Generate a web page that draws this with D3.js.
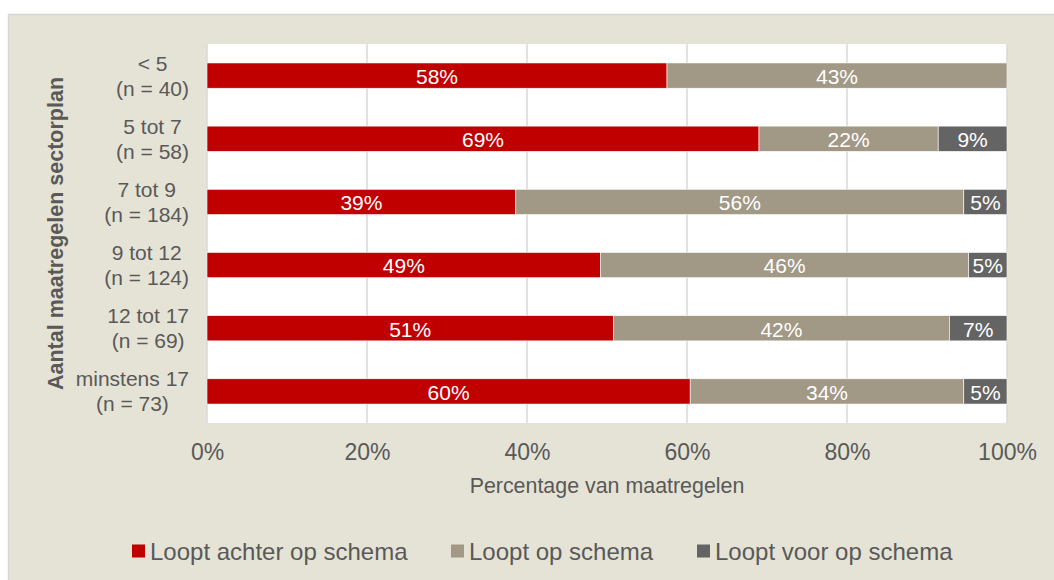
<!DOCTYPE html>
<html>
<head>
<meta charset="utf-8">
<script src="https://cdn.jsdelivr.net/npm/d3@7"></script>
<style>
  body { margin: 0; background: #ffffff; }
  svg text { font-family: "Liberation Sans", Arial, sans-serif; }
</style>
</head>
<body>
<div id="chart"></div>
<script>
// Categories (two lines each)
var categories = ["< 5|(n = 40)", "5 tot 7|(n = 58)", "7 tot 9|(n = 184)",
  "9 tot 12|(n = 124)", "12 tot 17|(n = 69)", "minstens 17|(n = 73)"];

// Series values (percent)
var seriesNames = ["Loopt achter op schema", "Loopt op schema", "Loopt voor op schema"];
var achter = [57.5, 69.0, 38.6, 49.2, 50.8, 60.4];
var op = [42.5, 22.4, 56.0, 46.0, 42.0, 34.2];
var voor = [0, 8.6, 5.4, 4.8, 7.2, 5.4];

// Tick labels
var xTicks = [0, 20, 40, 60, 80, 100];

var colors = ["#C00000", "#A19886", "#646464"];

var svgWidth = 1054;
var svgHeight = 580;

var plot = { left: 207, right: 1007, top: 44, bottom: 423 };

var svg = d3.select("#chart")
  .append("svg")
  .attr("width", svgWidth)
  .attr("height", svgHeight);

// chart area background
svg.append("rect")
  .attr("x", 8.5).attr("y", 14.5)
  .attr("width", svgWidth + 10).attr("height", svgHeight + 10)
  .attr("fill", "#E5E3D6")
  .attr("stroke", "#D6D6D6")
  .attr("stroke-width", 1.5);

// plot area
svg.append("rect")
  .attr("x", plot.left).attr("y", plot.top)
  .attr("width", plot.right - plot.left).attr("height", plot.bottom - plot.top)
  .attr("fill", "#ffffff");

// build table for stack
var table = categories.map(function(c, i) {
  return { cat: c, achter: achter[i], op: op[i], voor: voor[i] };
});
var keys = ["achter", "op", "voor"];
var stacked = d3.stack().keys(keys)(table);

// scales
var x = d3.scaleLinear().domain([0, 100]).range([plot.left, plot.right]);
var y = d3.scaleBand().domain(categories).range([plot.top, plot.bottom])
  .paddingInner(0.6).paddingOuter(0.3);

// gridlines
svg.append("g")
  .selectAll("line")
  .data(xTicks)
  .enter()
  .append("line")
  .attr("x1", d => x(d)).attr("x2", d => x(d))
  .attr("y1", plot.top).attr("y2", plot.bottom)
  .attr("stroke", "#D9D9D9")
  .attr("stroke-width", 1.5);

// bars
var layers = svg.append("g")
  .selectAll("g")
  .data(stacked)
  .enter()
  .append("g")
  .attr("fill", (d, i) => colors[i]);

layers.selectAll("rect")
  .data(d => d)
  .enter()
  .append("rect")
  .attr("x", d => x(d[0]))
  .attr("y", d => y(d.data.cat))
  .attr("width", d => x(d[1]) - x(d[0]))
  .attr("height", y.bandwidth())
  .attr("stroke", "#ffffff")
  .attr("stroke-width", 0.6);

// data labels
layers.selectAll("text")
  .data(d => d.filter(p => p[1] - p[0] > 0))
  .enter()
  .append("text")
  .attr("x", d => (x(d[0]) + x(d[1])) / 2)
  .attr("y", d => y(d.data.cat) + y.bandwidth() / 2)
  .attr("dy", "0.4em")
  .attr("text-anchor", "middle")
  .attr("fill", "#ffffff")
  .style("font-size", "21px")
  .text(d => Math.round(d[1] - d[0]) + "%");

// x axis tick labels
var xAxis = d3.axisBottom(x)
  .tickValues(xTicks)
  .tickFormat(d => d + "%")
  .tickSize(0)
  .tickPadding(0);

var xg = svg.append("g")
  .attr("transform", `translate(0, ${plot.bottom})`)
  .call(xAxis);
xg.select(".domain").remove();
xg.selectAll("text")
  .attr("y", 29)
  .attr("dy", "0.36em")
  .attr("fill", "#595959")
  .style("font-size", "23px")
  .style("font-family", "'Liberation Sans', Arial, sans-serif");

// y axis category labels (two lines, block right-aligned, lines centered)
var catRight = 189;
categories.forEach(function(c) {
  var lines = c.split("|");
  var g = svg.append("g");
  var cy = y(c) + y.bandwidth() / 2;
  var texts = lines.map(function(l, j) {
    return g.append("text")
      .attr("y", cy + (j - (lines.length - 1) / 2) * 25)
      .attr("dy", "0.36em")
      .attr("text-anchor", "middle")
      .attr("fill", "#595959")
      .style("font-size", "21px")
      .text(l);
  });
  var maxW = d3.max(texts, t => t.node().getComputedTextLength());
  texts.forEach(t => t.attr("x", catRight - maxW / 2));
});

// axis titles
svg.append("text")
  .attr("transform", `translate(55, ${(plot.top + plot.bottom) / 2}) rotate(-90)`)
  .attr("text-anchor", "middle")
  .attr("dy", "0.36em")
  .attr("fill", "#595959")
  .style("font-size", "21.5px")
  .style("font-weight", "bold")
  .text("Aantal maatregelen sectorplan");

svg.append("text")
  .attr("x", (plot.left + plot.right) / 2)
  .attr("y", 485)
  .attr("dy", "0.36em")
  .attr("text-anchor", "middle")
  .attr("fill", "#595959")
  .style("font-size", "21.4px")
  .text("Percentage van maatregelen");

// legend
var legendX = [132, 451, 697];
var legend = svg.append("g")
  .selectAll("g")
  .data(seriesNames)
  .enter()
  .append("g")
  .attr("transform", (d, i) => `translate(${legendX[i]}, 551)`);

legend.append("rect")
  .attr("x", 0).attr("y", -6.5)
  .attr("width", 13).attr("height", 13)
  .attr("fill", (d, i) => colors[i]);

legend.append("text")
  .attr("x", 18)
  .attr("dy", "0.36em")
  .attr("fill", "#595959")
  .style("font-size", "24px")
  .text(d => d);
</script>
</body>
</html>
